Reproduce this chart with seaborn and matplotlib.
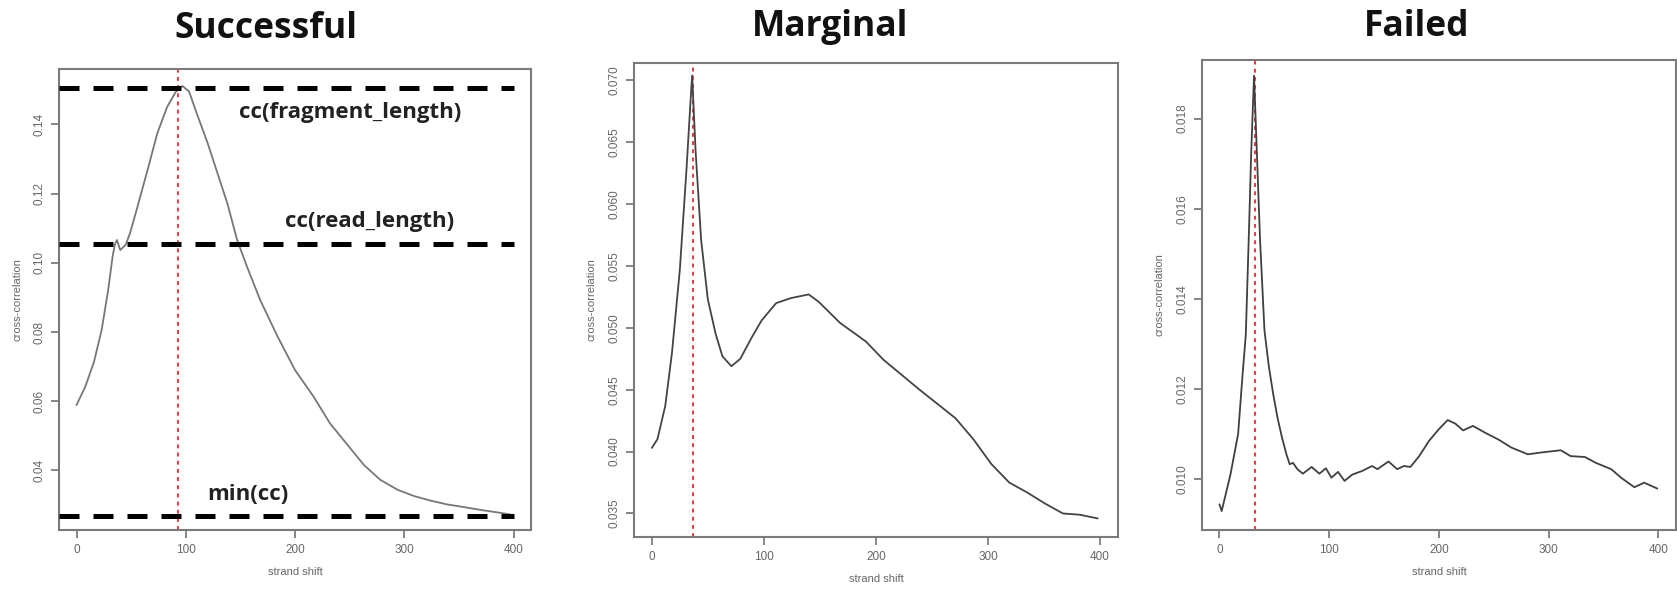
import numpy as np
import pandas as pd
import matplotlib
matplotlib.use("Agg")
import matplotlib.pyplot as plt
import seaborn as sns

# --- datos (strand shift vs cross-correlation) ---
shift_ok = [0, 8, 16, 23, 29, 33, 35, 37, 40, 45, 49, 55, 65, 74, 83, 91, 97, 103, 110,
            120, 129, 138, 147, 156, 168, 184, 200, 217, 232, 248, 263, 278, 294, 309,
            324, 339, 355, 370, 385, 397]
cc_ok = [0.0589, 0.0642, 0.0714, 0.0806, 0.0922, 0.1018, 0.1052, 0.1066, 0.1037, 0.1052,
         0.1086, 0.1153, 0.1268, 0.1375, 0.1451, 0.1495, 0.1511, 0.1495, 0.1432, 0.1346,
         0.1259, 0.1172, 0.1066, 0.0989, 0.0893, 0.0787, 0.0690, 0.0613, 0.0536, 0.0474,
         0.0416, 0.0373, 0.0344, 0.0326, 0.0313, 0.0302, 0.0294, 0.0286, 0.0279, 0.0273]

shift_mid = [0, 5, 12, 18, 25, 31, 35, 36, 39, 44, 50, 57, 63, 71, 79, 89, 98, 111, 124,
             140, 149, 168, 191, 207, 239, 271, 287, 303, 319, 335, 351, 367, 382, 398]
cc_mid = [0.0403, 0.0410, 0.0437, 0.0480, 0.0547, 0.0629, 0.0690, 0.0704, 0.0644, 0.0571,
          0.0523, 0.0495, 0.0477, 0.0469, 0.0475, 0.0492, 0.0506, 0.0520, 0.0524, 0.0527,
          0.0521, 0.0504, 0.0489, 0.0474, 0.0450, 0.0427, 0.0410, 0.0390, 0.0375, 0.0367,
          0.0358, 0.0350, 0.0349, 0.0346]

shift_bad = [0, 2, 10, 17, 21, 24, 27, 29, 31.5, 34, 37, 41, 45, 49, 53, 57, 61, 64, 67,
             71, 76, 84, 91, 97, 102, 108, 114, 121, 130, 139, 144, 154, 162, 168, 174,
             182, 191, 200, 208, 215, 222, 231, 242, 254, 266, 281, 293, 311, 320, 333,
             343, 357, 366, 378, 387, 399]
cc_bad = [0.00944, 0.00929, 0.01010, 0.01100, 0.01230, 0.01320, 0.01560, 0.01730, 0.01895,
          0.01730, 0.01530, 0.01330, 0.01250, 0.01188, 0.01135, 0.01092, 0.01055, 0.01033,
          0.01036, 0.01022, 0.01012, 0.01027, 0.01012, 0.01024, 0.01003, 0.01016, 0.00996,
          0.01010, 0.01018, 0.01029, 0.01022, 0.01039, 0.01022, 0.01029, 0.01027, 0.01051,
          0.01085, 0.01111, 0.01131, 0.01123, 0.01108, 0.01118, 0.01103, 0.01088, 0.01070,
          0.01055, 0.01059, 0.01064, 0.01051, 0.01049, 0.01036, 0.01022, 0.01003, 0.00982,
          0.00992, 0.00979]

# lineas de referencia del panel exitoso
cc_niveles = [0.1505, 0.1053, 0.0269]
cc_etiquetas = ["cc(fragment_length)", "cc(read_length)", "min(cc)"]
etiqueta_x = [250, 268, 157]
etiqueta_y = [0.1433, 0.1118, 0.0330]

# posicion de la linea roja (fragment length estimado)
frag_len = [93, 37, 32]

titulos = ["Successful", "Marginal", "Failed"]
yticks = [np.arange(0.04, 0.141, 0.02), np.arange(0.035, 0.0701, 0.005), np.arange(0.010, 0.0181, 0.002)]
ytick_fmt = ["{:.2f}", "{:.3f}", "{:.3f}"]
ylims = [(0.0228, 0.156), (0.0331, 0.0714), (0.00887, 0.0193)]
xticks = [0, 100, 200, 300, 400]

sns.set_style("ticks")
plt.rcParams["font.family"] = ["Liberation Sans", "DejaVu Sans"]

fig = plt.figure(figsize=(16.77, 5.92), dpi=100)
posiciones = [
    [0.0352, 0.1047, 0.2815, 0.7787],
    [0.3780, 0.0929, 0.2886, 0.8007],
    [0.7167, 0.1047, 0.2827, 0.7940],
]
titulo_x = [266, 830, 1417]
titulo_y = [29, 27, 27]

datos = [
    pd.DataFrame({"shift": shift_ok, "cc": cc_ok}),
    pd.DataFrame({"shift": shift_mid, "cc": cc_mid}),
    pd.DataFrame({"shift": shift_bad, "cc": cc_bad}),
]
colores_linea = ["#777777", "#444444", "#404040"]

for i, df in enumerate(datos):
    ax = fig.add_axes(posiciones[i])
    sns.lineplot(data=df, x="shift", y="cc", ax=ax, color=colores_linea[i], linewidth=1.3)
    ax.axvline(frag_len[i], color="#e8383d", linestyle=(0, (2.0, 2.2)), linewidth=1.4, zorder=1)

    ax.set_xlim(-16, 416)
    ax.set_ylim(*ylims[i])
    ax.set_xticks(xticks)
    ax.set_yticks(yticks[i])
    ax.set_yticklabels([ytick_fmt[i].format(v) for v in yticks[i]], rotation=90, va="center")
    ax.tick_params(colors="#666666", labelsize=8.5, length=6, width=1.1, direction="out", pad=4)
    for sp in ax.spines.values():
        sp.set_color("#7a7a7a")
        sp.set_linewidth(1.5)
    ax.set_xlabel("strand shift", fontsize=8, color="#666666", labelpad=8)
    ax.set_ylabel("cross-correlation", fontsize=8, color="#666666", labelpad=8)

    fig.text(titulo_x[i] / 1677, 1 - titulo_y[i] / 592, titulos[i], ha="center", va="center",
             fontsize=25.5, fontweight="bold", family=["Open Sans", "DejaVu Sans"], color="#111111")

    if i == 0:
        # lineas gruesas discontinuas de los niveles cc
        ax.hlines(cc_niveles, -16, df["shift"].max() + 3, colors="black", linewidth=3.6,
                  linestyles=[(0, (4.0, 2.8))] * 3, zorder=3)
        for etq, ex, ey in zip(cc_etiquetas, etiqueta_x, etiqueta_y):
            ax.text(ex, ey, etq, ha="center", va="center", fontsize=16, fontweight="bold",
                    family=["Open Sans", "DejaVu Sans"], color="#222222")

fig.savefig("out.png", dpi=100)
